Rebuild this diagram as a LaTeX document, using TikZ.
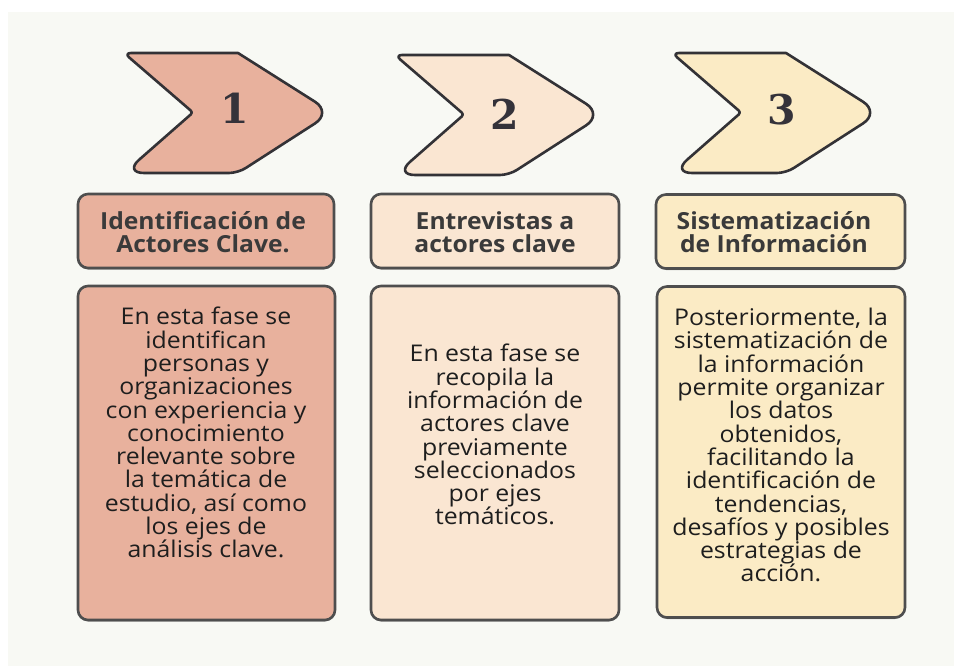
\documentclass[tikz,border=0pt]{standalone}
\usepackage{fontspec}
\setmainfont{Open Sans}
\newfontfamily\bodyfont[FakeStretch=1.08]{Open Sans}
\newfontfamily\titlefont[FakeStretch=1.05]{Open Sans}
\newfontfamily\numfont{DejaVu Serif}
\usetikzlibrary{shadows}
\definecolor{bgc}{HTML}{F8F9F4}
\definecolor{fillA}{HTML}{E8B19D}
\definecolor{fillB}{HTML}{FAE6D2}
\definecolor{fillC}{HTML}{FBEBC5}
\definecolor{edgec}{HTML}{4E4E4E}
\definecolor{chevedge}{HTML}{333236}
\definecolor{txtc}{HTML}{1E1E1E}
\definecolor{titlec}{HTML}{3A3A3A}
\definecolor{numc}{HTML}{34323A}
\tikzset{
  titlebox/.style={draw=edgec, line width=2.6pt, rounded corners=10pt, minimum height=74pt, inner sep=0pt,
     drop shadow={shadow xshift=0pt, shadow yshift=-1.5pt, opacity=0.35, fill=black}},
  bodybox/.style={draw=edgec, line width=2.6pt, rounded corners=10pt, inner sep=0pt,
     drop shadow={shadow xshift=0pt, shadow yshift=-1.5pt, opacity=0.35, fill=black}},
  chev/.style={draw=chevedge, line width=2.6pt, line join=round},
  titletext/.style={align=center, inner sep=0pt, text=titlec, font=\titlefont\fontsize{23.5}{22.7}\selectfont\bfseries},
  bodytext/.style={align=center, inner sep=0pt, text=txtc, font=\bodyfont\fontsize{23}{23.3}\selectfont, anchor=north},
  numtext/.style={inner sep=0pt, text=numc, font=\fontsize{41}{41}\selectfont\numfont\bfseries}
}
\begin{document}
\begin{tikzpicture}[x=1pt,y=-1pt]
\useasboundingbox (0,0) rectangle (954,666);
\fill[white] (0,0) rectangle (954,666);
\fill[bgc] (8,12) rectangle (954,666);

% chevrons
\foreach \xo/\yo/\fc in {124/53/fillA, 395/55/fillB, 672/53/fillC}{
  \filldraw[chev, fill=\fc, shift={(\xo,\yo)}]
    (55,0) -- (114,0) [rounded corners=20pt] -- (208,59.5) [rounded corners=9pt] -- (114,120) [rounded corners=20pt]
    -- (0,120) [rounded corners=3pt] -- (69,59.5) [rounded corners=7pt] -- (0,0) [rounded corners=3pt] -- cycle;
}
\node[numtext] (n1) at (235,108) {1};
\node[numtext] (n2) at (505,114) {2};
\node[numtext] (n3) at (782,110) {3};

% title boxes
\node[titlebox, fill=fillA, minimum width=256pt] (t1) at (206,231) {};
\node[titlebox, fill=fillB, minimum width=248pt] (t2) at (495,231) {};
\node[titlebox, fill=fillC, minimum width=249pt] (t3) at (780.5,231.5) {};
\node[titletext] (tt1) at (203,232) {Identificación de\\Actores Clave.};
\node[titletext] (tt2) at (495,232) {Entrevistas a\\actores clave};
\node[titletext] (tt3) at (774,232) {Sistematización\\de Información};

% body boxes
\node[bodybox, fill=fillA, minimum width=257pt, minimum height=334pt] (b1) at (206.5,453) {};
\node[bodybox, fill=fillB, minimum width=248pt, minimum height=334pt] (b2) at (495,453) {};
\node[bodybox, fill=fillC, minimum width=248pt, minimum height=331pt] (b3) at (781,452) {};

\node[bodytext] (bt1) at (206,307) {En esta fase se\\identifican\\personas y\\organizaciones\\con experiencia y\\conocimiento\\relevante sobre\\la temática de\\estudio, así como\\los ejes de\\análisis clave.};
\node[bodytext] (bt2) at (495,344) {En esta fase se\\recopila la\\información de\\actores clave\\previamente\\seleccionados\\por ejes\\temáticos.};
\node[bodytext] (bt3) at (781,308) {Posteriormente, la\\sistematización de\\la información\\permite organizar\\los datos\\obtenidos,\\facilitando la\\identificación de\\tendencias,\\desafíos y posibles\\estrategias de\\acción.};
\end{tikzpicture}
\end{document}
